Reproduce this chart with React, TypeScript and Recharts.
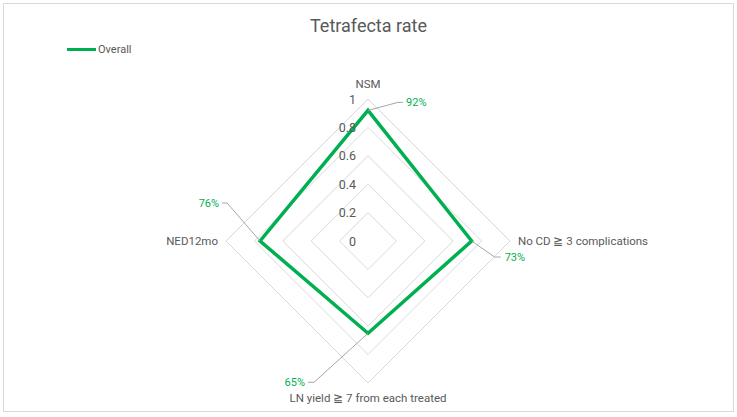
import React from "react"
import { RadarChart, Radar, PolarGrid, PolarAngleAxis, PolarRadiusAxis, Legend } from "recharts"

const categories = ["NSM", "No CD ≧ 3 complications", "LN yield ≧ 7 from each treated", "NED12mo"]
const overall = [0.92, 0.73, 0.65, 0.76]
const radiusTicks = [0, 0.2, 0.4, 0.6, 0.8, 1]

const data = categories.map((name, i) => ({ name, overall: overall[i] }))

const FONT = "Roboto, 'Liberation Sans', sans-serif"
const TEXT = "#595959"
const GREEN = "#00B050"

// leader line elbow / end / text position relative to each point
const labelOffsets = [
  { elbow: [30, -8], end: [35, -8], text: [38, -8], anchor: "start" },
  { elbow: [23, 16], end: [29, 16], text: [33, 16], anchor: "start" },
  { elbow: [-54, 49], end: [-60, 49], text: [-63, 49], anchor: "end" },
  { elbow: [-33, -38], end: [-38, -38], text: [-41, -38], anchor: "end" },
]

const PointLabel = (props: any) => {
  const { x, y, value, index } = props
  const o = labelOffsets[index]
  if (!o) return null
  return (
    <g>
      <polyline
        points={`${x},${y} ${x + o.elbow[0]},${y + o.elbow[1]} ${x + o.end[0]},${y + o.end[1]}`}
        fill="none"
        stroke="#a6a6a6"
        strokeWidth={1}
      />
      <text
        x={x + o.text[0]}
        y={y + o.text[1]}
        dy={4}
        textAnchor={o.anchor}
        fill={GREEN}
        fontSize={11}
        fontFamily={FONT}
      >
        {Math.round(value * 100)}%
      </text>
    </g>
  )
}

const AngleTick = (props: any) => {
  const { x, y, payload, textAnchor } = props
  let dy = 4
  if (y < 200) dy = -3
  if (y > 300) dy = 11
  return (
    <text x={x} y={y} dy={dy} textAnchor={textAnchor} fill={TEXT} fontSize={11.5} fontFamily={FONT}>
      {payload.value}
    </text>
  )
}

const RadiusTick = (props: any) => {
  const { x, y, payload } = props
  return (
    <text x={x - 12} y={y} dy={4.5} textAnchor="end" fill={TEXT} fontSize={12.5} fontFamily={FONT}>
      {payload.value}
    </text>
  )
}

const LegendContent = () => (
  <div style={{ display: "flex", alignItems: "center", fontFamily: FONT, fontSize: 11, color: TEXT }}>
    <span style={{ display: "inline-block", width: 29, height: 3, background: GREEN, marginRight: 2 }} />
    Overall
  </div>
)

export default function App() {
  return (
    <div style={{ position: "absolute", left: 0, top: 0, width: 737, height: 417, background: "#fff" }}>
      <div
        style={{
          position: "absolute",
          left: 3,
          top: 3,
          width: 729,
          height: 407,
          border: "1px solid #d9d9d9",
        }}
      />
      <div
        style={{
          position: "absolute",
          left: 0,
          top: 15,
          width: 737,
          textAlign: "center",
          fontFamily: FONT,
          fontSize: 18,
          color: TEXT,
        }}
      >
        Tetrafecta rate
      </div>
      <div style={{ position: "absolute", left: 0, top: 0 }}>
        <RadarChart width={737} height={417} data={data} cx={368} cy={241} outerRadius={142}>
          <Legend
            verticalAlign="top"
            align="left"
            content={<LegendContent />}
            wrapperStyle={{ top: 43, left: 67, width: 100 }}
          />
          <PolarGrid gridType="polygon" radialLines={false} stroke="#d9d9d9" strokeWidth={1} />
          <PolarAngleAxis dataKey="name" tick={<AngleTick />} tickLine={false} axisLine={false} />
          <PolarRadiusAxis
            angle={90}
            domain={[0, 1]}
            ticks={radiusTicks as any}
            tick={<RadiusTick />}
            axisLine={false}
            tickLine={false}
          />
          <Radar
            dataKey="overall"
            name="Overall"
            stroke={GREEN}
            strokeWidth={3.5}
            fill="none"
            fillOpacity={0}
            isAnimationActive={false}
            label={PointLabel}
          />
        </RadarChart>
      </div>
    </div>
  )
}
